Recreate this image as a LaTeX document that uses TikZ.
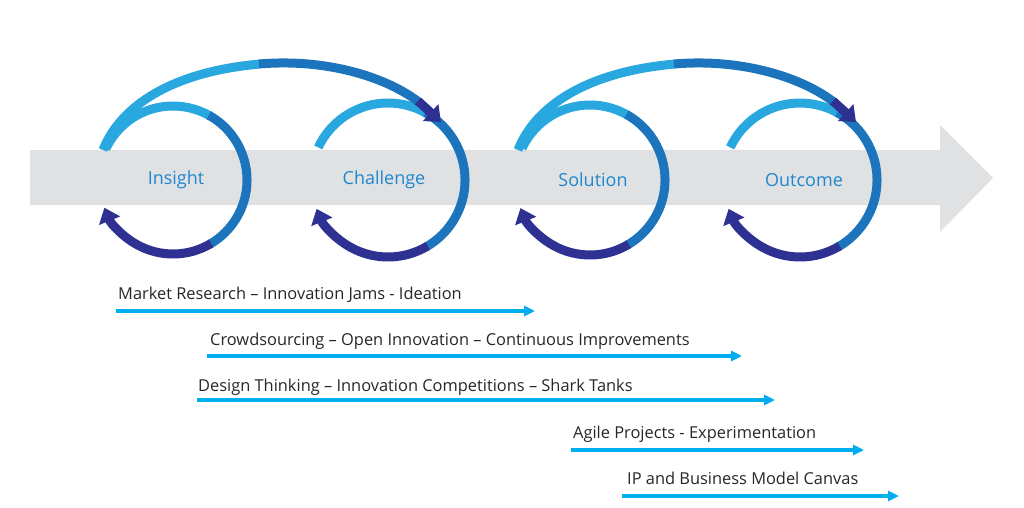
\documentclass[tikz,border=0pt]{standalone}
\usepackage{fontspec}
\setmainfont{Open Sans}
\usetikzlibrary{arrows.meta}
\definecolor{lb}{HTML}{29A8E0}
\definecolor{mb}{HTML}{1C75BC}
\definecolor{db}{HTML}{2E3192}
\definecolor{cy}{HTML}{00AEEF}
\definecolor{band}{HTML}{E0E1E3}
\definecolor{lab}{HTML}{1E88D0}
\tikzset{
  loopseg/.style={line width=9pt},
  tipd/.style={-{Triangle[length=14pt,width=22pt]}},
  lbl/.style={text=lab,font=\fontsize{18}{21}\selectfont},
  bar/.style={cy,line width=3.2pt,-{Triangle[length=11pt,width=10pt]}},
  btxt/.style={anchor=base west,inner sep=0pt,font=\fontsize{16.4}{19}\selectfont,text=black!85},
}
\begin{document}
\begin{tikzpicture}[x=1pt,y=1pt]
\useasboundingbox (0,0) rectangle (1024,507);
% band
\fill[band] (30,302) -- (940,302) -- (940,382) -- (993,329) -- (940,275) -- (940,357) -- (30,357) -- cycle;
\fill[band] (30,302) rectangle (940,357);
% loops
\foreach \cx/\r/\nm in {173/74/a,388/77/b,590/75/c,800/77/d}{
  \draw[loopseg,lb] (\cx,327) ++(155:\r) arc[start angle=155,end angle=60,radius=\r];
  \draw[loopseg,mb] (\cx,327) ++(61:\r) arc[start angle=61,end angle=-60,radius=\r];
  \draw[loopseg,db,tipd] (\cx,327) ++(-59:\r) arc[start angle=-59,end angle=-158,radius=\r];
}
% big arcs
\draw[loopseg,lb] (103,357) .. controls (120,400) and (170,435) .. (260,443);
\draw[loopseg,mb] (259,443) .. controls (330,449) and (390,428) .. (420,404);
\draw[loopseg,db,tipd] (418,406) -- (441,385);
\draw[loopseg,lb] (518,357) .. controls (535,400) and (585,435) .. (675,443);
\draw[loopseg,mb] (674,443) .. controls (745,449) and (805,428) .. (835,404);
\draw[loopseg,db,tipd] (833,406) -- (856,385);
% labels
\node[lbl] (ins) at (176,327) {Insight};
\node[lbl] (cha) at (384,327) {Challenge};
\node[lbl] (sol) at (593,327) {Solution};
\node[lbl] (out) at (804,327) {Outcome};
% bottom bars
\node[btxt] (t1) at (118,208) {Market Research – Innovation Jams - Ideation};
\coordinate (a1) at (116,196); \coordinate (b1) at (535,196);
\draw[bar] (a1) -- (b1);
\node[btxt] (t2) at (210,162) {Crowdsourcing – Open Innovation – Continuous Improvements};
\coordinate (a2) at (207,151); \coordinate (b2) at (742,151);
\draw[bar] (a2) -- (b2);
\node[btxt] (t3) at (198,116) {Design Thinking – Innovation Competitions – Shark Tanks};
\coordinate (a3) at (197,107); \coordinate (b3) at (775,107);
\draw[bar] (a3) -- (b3);
\node[btxt] (t4) at (573,69) {Agile Projects - Experimentation};
\coordinate (a4) at (571,57); \coordinate (b4) at (864,57);
\draw[bar] (a4) -- (b4);
\node[btxt] (t5) at (627,23) {IP and Business Model Canvas};
\coordinate (a5) at (622,11); \coordinate (b5) at (899,11);
\draw[bar] (a5) -- (b5);
\end{tikzpicture}
\end{document}
